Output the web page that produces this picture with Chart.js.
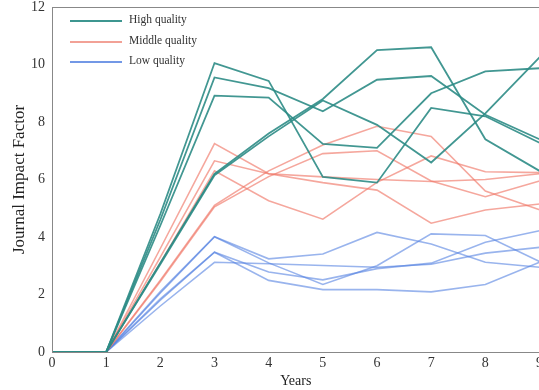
<!DOCTYPE html>
<html lang="en">
<head>
  <meta charset="UTF-8">
  <title>Journal Impact Factor</title>
  <script src="https://cdn.jsdelivr.net/npm/chart.js"></script>
  <style>
    html, body { margin: 0; padding: 0; background: #fff; overflow: hidden; }
    #wrap { position: relative; width: 546px; height: 390px; }
    #legend { position: absolute; left: 70px; top: 13px; font-family: "Liberation Serif", serif; font-size: 11.5px; color: #333; }
    #legend div { height: 20.5px; display: flex; align-items: flex-start; }
    #legend span.ln { display: inline-block; width: 52px; height: 2px; margin-top: 7px; margin-right: 7px; }
  </style>
</head>
<body>
<div id="wrap">
  <canvas id="chart" width="546" height="390"></canvas>
  <div id="legend">
    <div><span class="ln" style="background:#3e9690"></span>High quality</div>
    <div><span class="ln" style="background:#f2a196"></span>Middle quality</div>
    <div><span class="ln" style="background:#7398e6"></span>Low quality</div>
  </div>
</div>

<script>
  const years = [0, 1, 2, 3, 4, 5, 6, 7, 8, 9];

  // high quality journals
  const high1 = [0, 0, 4.8, 10.05, 9.43, 6.09, 5.89, 8.49, 8.2, 7.28];
  const high2 = [0, 0, 4.6, 9.55, 9.18, 8.37, 9.47, 9.6, 8.25, 7.4];
  const high3 = [0, 0, 4.4, 8.92, 8.85, 7.24, 7.1, 9.0, 9.76, 9.87];
  const high4 = [0, 0, 3.1, 6.2, 7.6, 8.8, 10.5, 10.6, 7.4, 6.3];
  const high5 = [0, 0, 3.05, 6.15, 7.5, 8.75, 7.9, 6.59, 8.3, 10.25];

  // middle quality journals
  const mid1 = [0, 0, 3.6, 7.25, 6.2, 6.09, 6.0, 5.93, 6.0, 6.2];
  const mid2 = [0, 0, 3.3, 6.65, 6.2, 5.89, 5.63, 4.48, 4.94, 5.15];
  const mid3 = [0, 0, 2.5, 5.1, 6.3, 7.2, 7.85, 7.5, 5.6, 4.95];
  const mid4 = [0, 0, 2.45, 5.05, 6.1, 6.9, 7.0, 5.95, 5.4, 5.95];
  const mid5 = [0, 0, 3.1, 6.3, 5.26, 4.62, 5.9, 6.82, 6.27, 6.24];

  // low quality journals
  const low1 = [0, 0, 2.1, 4.01, 3.24, 3.41, 4.16, 3.76, 3.12, 2.95];
  const low2 = [0, 0, 2.05, 4.01, 3.1, 2.35, 3.0, 4.11, 4.05, 3.15];
  const low3 = [0, 0, 1.85, 3.47, 2.78, 2.51, 2.9, 3.09, 3.82, 4.22];
  const low4 = [0, 0, 1.8, 3.47, 2.49, 2.17, 2.17, 2.09, 2.35, 3.12];
  const low5 = [0, 0, 1.6, 3.12, 3.07, 3.01, 2.95, 3.05, 3.44, 3.64];

  const yTicks = [0, 2, 4, 6, 8, 10, 12];

  const teal = 'rgba(45, 140, 134, 0.9)';
  const salmon = 'rgba(240, 120, 105, 0.65)';
  const blue = 'rgba(85, 130, 225, 0.6)';

  function line(data, color, width) {
    return { data: data, borderColor: color, borderWidth: width, pointRadius: 0, fill: false, tension: 0 };
  }

  // box round the plot area
  const frame = {
    id: 'frame',
    afterDraw(chart) {
      const a = chart.chartArea, ctx = chart.ctx;
      ctx.save();
      ctx.strokeStyle = '#888';
      ctx.lineWidth = 1;
      ctx.strokeRect(a.left + 0.5, a.top + 0.5, a.right - a.left, a.bottom - a.top);
      ctx.restore();
    }
  };

  new Chart(document.getElementById('chart'), {
    type: 'line',
    data: {
      labels: years,
      datasets: [
        line(high1, teal, 1.8), line(high2, teal, 1.8), line(high3, teal, 1.8), line(high4, teal, 1.8), line(high5, teal, 1.8),
        line(mid1, salmon, 1.6), line(mid2, salmon, 1.6), line(mid3, salmon, 1.6), line(mid4, salmon, 1.6), line(mid5, salmon, 1.6),
        line(low1, blue, 1.6), line(low2, blue, 1.6), line(low3, blue, 1.6), line(low4, blue, 1.6), line(low5, blue, 1.6)
      ]
    },
    options: {
      responsive: false,
      animation: false,
      layout: { padding: { top: 7, left: 0 } },
      plugins: { legend: { display: false }, tooltip: { enabled: false } },
      scales: {
        x: {
          offset: false,
          grid: { display: false, drawTicks: false, tickLength: 0 },
          border: { display: true, color: '#888' },
          afterFit(scale) { scale.height = 38; },
          ticks: { color: '#333', font: { family: 'Liberation Serif', size: 14 }, padding: 3, maxRotation: 0 },
          title: { display: true, text: 'Years', color: '#222', font: { family: 'Liberation Serif', size: 14 }, padding: { top: 0, bottom: 0 } }
        },
        y: {
          min: 0, max: 12,
          afterBuildTicks(scale) { scale.ticks = yTicks.map(v => ({ value: v })); },
          afterFit(scale) { scale.width = 52; scale.paddingTop = 0; },
          grid: { display: false, drawTicks: false, tickLength: 0 },
          border: { display: true, color: '#888' },
          ticks: { color: '#333', font: { family: 'Liberation Serif', size: 14 }, padding: 7 },
          title: { display: true, text: 'Journal Impact Factor', color: '#222', font: { family: 'Liberation Serif', size: 17 }, padding: { top: 9, bottom: 0 } }
        }
      }
    },
    plugins: [frame]
  });
</script>
</body>
</html>
